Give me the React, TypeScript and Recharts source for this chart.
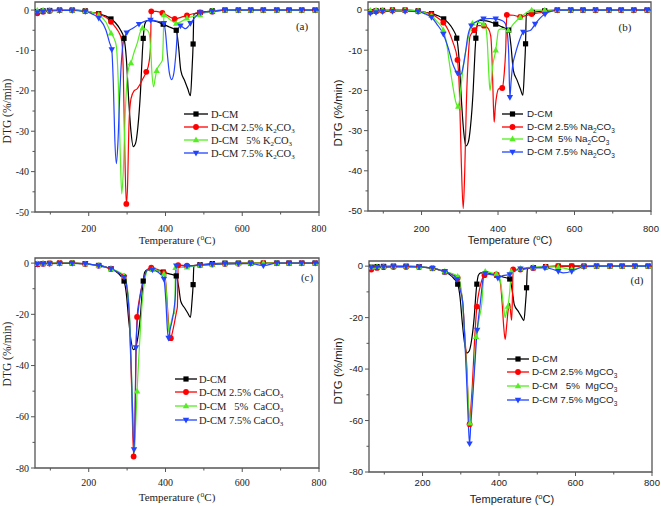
import React from 'react';
import { LineChart, Line, XAxis, YAxis, ReferenceArea } from 'recharts';

type Pt = [number, number];

// ---------- tick values ----------
const X_TICKS = [100, 200, 300, 400, 500, 600, 700, 800];
const Y_TICKS_AB = [-50, -45, -40, -35, -30, -25, -20, -15, -10, -5, 0];
const Y_TICKS_CD = [-80, -70, -60, -50, -40, -30, -20, -10, 0];

// ---------- common marker temperatures ----------
const HEAD_MK = [66, 81, 98, 124, 157, 191, 226];
const TAIL_MK = [555, 590, 622, 655, 690, 722, 755, 790];
const TAIL: Pt[] = [[555, 0], [590, 0], [622, 0], [655, 0], [690, 0], [722, 0], [755, 0], [790, 0], [800, 0]];

// ---------- D-CM (same in all panels) ----------
const DCM_PTS: Pt[] = [[60, -0.6], [66, -0.4], [81, -0.2], [98, -0.1], [124, 0], [157, 0], [191, -0.2], [210, -0.6], [226, -0.9], [245, -1.5], [258, -2.2], [270, -3.2], [282, -4.8], [292, -7.0], [298, -12], [304, -22], [310, -30], [316, -33.8], [322, -33], [328, -29], [335, -20], [340, -10], [342, -7.0], [346, -3.5], [352, -2.6], [370, -2.7], [394, -3.5], [410, -4.2], [428, -5.0], [434, -9], [440, -15], [450, -17.5], [458, -19.5], [465, -21.2], [469, -15], [472, -8.4], [474, -1], [490, -0.6], [522, -0.2], ...TAIL];
const DCM_MK = [258, 292, 342, 394, 428, 472, 490, 522];

// ---------- (a) K2CO3 ----------
const A_K25_PTS: Pt[] = [[60, -1.0], [66, -0.8], [81, -0.4], [98, -0.2], [124, 0], [157, 0], [191, -0.3], [210, -0.6], [226, -1.0], [245, -1.8], [258, -2.9], [270, -4.3], [280, -5.8], [286, -7.5], [290, -15], [294, -35], [298, -48], [301, -44], [305, -28], [310, -22], [318, -20], [326, -19.5], [333, -18.5], [341, -17], [350, -15.3], [357, -13], [361, -9], [363, -0.3], [376, -0.3], [392, -0.7], [408, -1.5], [424, -2.2], [440, -1.8], [456, -1.3], [472, -0.9], [490, -0.6], [522, -0.4], ...TAIL];
const A_K25_MK = [258, 298, 350, 363, 392, 424, 456, 490, 522];
const A_K5_PTS: Pt[] = [[60, -0.2], [66, -0.1], [81, 0], [98, 0], [124, 0], [157, 0], [191, -0.2], [210, -0.6], [226, -1.2], [245, -3], [258, -5.7], [266, -7], [272, -9], [277, -18], [282, -35], [286, -45.5], [290, -40], [295, -26], [300, -17], [305, -14], [310, -13.1], [318, -10.5], [327, -8], [334, -5.5], [340, -4.5], [350, -4.8], [357, -5.6], [361, -9], [365, -16], [369, -19], [373, -17], [377, -15], [385, -13.5], [392, -12.4], [394, -8], [396, -1.2], [410, -2.2], [428, -3.3], [442, -2.8], [456, -2.0], [472, -1.6], [490, -1.2], [508, -0.5], [522, -0.2], ...TAIL];
const A_K5_MK = [258, 310, 340, 377, 396, 428, 456, 490, 522];
const A_K75_PTS: Pt[] = [[60, -0.8], [66, -0.6], [81, -0.4], [98, -0.2], [124, -0.1], [157, -0.1], [191, -0.3], [210, -1.0], [226, -2.0], [245, -5], [254, -8], [260, -9.8], [264, -18], [268, -32], [272, -38], [276, -33], [280, -23], [285, -13], [290, -8], [294, -6.6], [299, -5.6], [315, -4.5], [331, -3.5], [346, -2.8], [361, -2.5], [380, -2.8], [396, -3.3], [400, -5.5], [405, -11], [410, -15.5], [416, -17.2], [422, -15.5], [427, -11], [432, -5], [439, -3.9], [446, -4.3], [452, -4.6], [458, -4.2], [465, -3.3], [478, -1.7], [491, -0.6], [522, -0.3], ...TAIL];
const A_K75_MK = [260, 299, 331, 361, 396, 439, 465, 491, 522];

// ---------- (b) Na2CO3 ----------
const B_N25_PTS: Pt[] = [[60, -0.5], [66, -0.4], [81, -0.3], [98, -0.2], [124, -0.1], [157, -0.1], [191, -0.3], [210, -0.6], [226, -1.0], [240, -1.8], [257, -3.1], [270, -5], [282, -8], [294, -12.4], [299, -20], [304, -38], [309, -49.4], [313, -40], [317, -24], [322, -12], [327, -6.5], [338, -5], [348, -3.9], [363, -3.9], [375, -4.7], [381, -6.5], [385, -14], [388, -24], [390, -27.9], [393, -24], [397, -21], [402, -19.6], [411, -19.4], [416, -16], [420, -10], [423, -1.2], [440, -1.3], [458, -1.7], [472, -1.4], [488, -1.0], [522, -0.5], [540, -0.2], ...TAIL];
const B_N25_MK = [257, 294, 338, 363, 411, 423, 458, 488, 522];
const B_N5_PTS: Pt[] = [[60, -0.2], [66, -0.1], [81, 0], [98, 0], [124, 0], [157, 0], [191, -0.2], [210, -0.7], [226, -1.4], [240, -2.8], [257, -5], [265, -8], [274, -14], [282, -19], [290, -23], [296, -24], [302, -20], [309, -14], [318, -9], [327, -5], [333, -3.3], [345, -3], [362, -3.5], [368, -4.3], [372, -8], [376, -16], [379, -20], [382, -18], [386, -14], [394, -10], [398, -7], [401, -5], [409, -4.7], [418, -4.8], [427, -5], [440, -3.5], [458, -1.8], [472, -0.8], [488, 0], [522, 0], ...TAIL];
const B_N5_MK = [257, 296, 333, 362, 394, 427, 458, 488, 522];
const B_N75_PTS: Pt[] = [[60, -0.9], [66, -0.8], [81, -0.6], [98, -0.4], [124, -0.3], [157, -0.3], [191, -0.4], [210, -1.0], [226, -1.8], [240, -3.5], [257, -6], [270, -9.5], [282, -13.5], [294, -15.7], [303, -16], [309, -14], [315, -10.5], [321, -6.5], [330, -3.9], [345, -2.8], [362, -2.2], [380, -2.1], [394, -2.2], [410, -2.6], [418, -3.2], [424, -5.5], [428, -11], [431, -21.7], [434, -18], [438, -14], [445, -11], [453, -8.4], [460, -6.5], [466, -5.5], [475, -5.3], [484, -5.1], [490, -4.5], [497, -3.5], [510, -2], [523, -1], [540, -0.3], ...TAIL];
const B_N75_MK = [257, 294, 330, 362, 394, 431, 466, 497, 523];

// ---------- (c) CaCO3 ----------
const C_TAIL: Pt[] = [[555, -0.3], [590, -0.2], [622, 0], [655, 0], [690, 0], [722, 0], [755, 0], [790, 0], [800, 0]];
const C_C25_PTS: Pt[] = [[60, -0.5], [66, -0.4], [81, -0.2], [98, -0.1], [124, 0], [157, 0], [191, -0.3], [210, -0.6], [226, -1.0], [245, -1.6], [258, -2.2], [275, -3.5], [292, -5.2], [300, -10], [306, -22], [312, -50], [317, -75.5], [320, -65], [323, -38], [326, -21], [332, -14], [340, -8], [348, -4], [355, -2.2], [363, -1.8], [380, -2.5], [396, -3.8], [401, -8], [405, -17], [409, -25], [414, -29.3], [418, -27], [423, -23.5], [428, -19.5], [431, -17], [433, -0.8], [456, -1.0], [490, -0.8], [522, -0.5], ...C_TAIL];
const C_C25_MK = [258, 292, 317, 326, 363, 396, 414, 433, 456, 490, 522];
const C_C5_PTS: Pt[] = [[60, -0.3], [66, -0.2], [81, -0.1], [98, 0], [124, 0], [157, 0], [191, -0.3], [210, -0.6], [226, -1.0], [245, -1.6], [258, -2.2], [275, -3.2], [292, -5.0], [300, -9], [307, -22], [313, -50], [319, -74], [322, -64], [326, -50], [330, -38], [335, -25], [340, -14], [347, -6], [355, -2.5], [366, -2.6], [380, -3], [396, -4.2], [401, -9], [405, -19], [409, -27], [413, -24.5], [417, -21.5], [421, -20], [424, -19.5], [426, -1.8], [440, -1.7], [456, -1.6], [472, -1.2], [490, -0.8], [522, -0.5], ...C_TAIL];
const C_C5_MK = [258, 292, 326, 366, 396, 426, 456, 490, 522];
const C_C75_PTS: Pt[] = [[60, -0.6], [66, -0.5], [81, -0.3], [98, -0.2], [124, -0.1], [157, -0.1], [191, -0.3], [210, -0.6], [226, -1.0], [245, -1.6], [258, -2.2], [275, -3.5], [292, -5.5], [300, -10], [307, -24], [313, -52], [318, -72.8], [321, -58], [323, -33], [327, -22], [333, -14], [340, -8], [348, -4], [355, -2.4], [366, -2.6], [380, -3.5], [396, -6.2], [401, -15], [405, -26], [408, -29.3], [412, -26], [418, -22], [423, -17], [426, -12], [428, -1.0], [440, -1.0], [456, -1.2], [472, -1.0], [490, -0.8], [522, -0.5], [555, -0.3], [590, -0.2], [622, -0.2], [655, -1.0], [690, 0], [722, 0], [755, 0], [790, 0], [800, 0]];
const C_C75_MK = [258, 292, 318, 323, 366, 396, 408, 428, 456, 490, 522];

// ---------- (d) MgCO3 ----------
const D_M25_PTS: Pt[] = [[60, -1.5], [66, -1.3], [81, -0.7], [98, -0.4], [124, -0.3], [157, -0.3], [191, -0.3], [210, -0.5], [226, -0.8], [245, -1.6], [258, -2.2], [275, -3], [292, -4.6], [300, -9], [305, -14], [311, -28], [316, -40], [320, -55], [323, -61.4], [326, -56], [330, -47], [336, -29], [342, -15.7], [349, -9], [356, -5], [362, -3.5], [375, -3], [393, -3.2], [403, -6], [408, -14], [412, -23], [416, -28.5], [420, -23], [424, -17], [428, -14.5], [431, -19], [433, -21], [435, -12], [437, -1.3], [456, -1.3], [472, -1.0], [489, -0.7], [522, -0.3], ...TAIL];
const D_M25_MK = [258, 292, 323, 342, 362, 393, 437, 456, 489, 522];
const D_M5_PTS: Pt[] = [[60, -0.5], [66, -0.4], [81, -0.2], [98, -0.1], [124, 0], [157, 0], [191, -0.2], [210, -0.5], [226, -0.8], [245, -1.5], [258, -2.0], [275, -2.8], [292, -4.0], [300, -8], [306, -17], [312, -32], [318, -48], [321, -56], [324, -61], [327, -57], [331, -50], [336, -38], [340, -27.4], [345, -23], [349, -19.6], [355, -14.4], [359, -6], [364, -2], [380, -2.6], [393, -3], [401, -4], [405, -7], [409, -12], [413, -17], [416, -20], [420, -17.5], [423, -15.7], [428, -10], [432, -2], [444, -1.3], [456, -0.9], [472, -0.6], [489, -0.4], [522, -0.3], [555, -0.3], [570, -0.8], [590, -1.3], [605, -0.8], [622, 0], [655, 0], [690, 0], [722, 0], [755, 0], [790, 0], [800, 0]];
const D_M5_MK = [258, 292, 324, 340, 364, 393, 423, 432, 456, 489, 522];
const D_M75_PTS: Pt[] = [[60, -0.6], [66, -0.5], [81, -0.4], [98, -0.3], [124, -0.2], [157, -0.2], [191, -0.3], [210, -0.5], [226, -0.8], [245, -1.5], [258, -2.0], [275, -3.2], [290, -5.2], [298, -9], [305, -14], [311, -30], [316, -47], [320, -62], [323, -69], [326, -62], [330, -53.5], [336, -40], [343, -24.8], [351, -14.4], [358, -5.2], [364, -2.9], [380, -3.3], [393, -3.9], [397, -4.6], [410, -3.7], [428, -3.3], [440, -2], [456, -1.0], [472, -0.8], [489, -0.7], [520, -0.7], [540, -1.2], [555, -2.0], [568, -2.6], [590, -2.0], [605, -1], [622, -0.3], [655, 0], [690, 0], [722, 0], [755, 0], [790, 0], [800, 0]];
const D_M75_MK = [258, 290, 323, 343, 364, 397, 428, 456, 489, 520];

// ---------- legend labels ----------
const LEG_A = ['D-CM', 'D-CM 2.5% K_2CO_3', 'D-CM   5% K_2CO_3', 'D-CM 7.5% K_2CO_3'];
const LEG_B = ['D-CM', 'D-CM 2.5% Na_2CO_3', 'D-CM  5% Na_2CO_3', 'D-CM 7.5% Na_2CO_3'];
const LEG_C = ['D-CM', 'D-CM 2.5% CaCO_3', 'D-CM   5%  CaCO_3', 'D-CM 7.5% CaCO_3'];
const LEG_D = ['D-CM', 'D-CM 2.5% MgCO_3', 'D-CM   5%  MgCO_3', 'D-CM 7.5% MgCO_3'];

// ---------- styles ----------
const AX = '#555';
const TXT = '#222';
const SERIF = "'Liberation Serif','Times New Roman',serif";
const SANS = "'Liberation Sans',Arial,sans-serif";
type Shape = 'square' | 'circle' | 'up' | 'down';
const COLORS = ['#000000', '#ff0000', '#55ee22', '#2244ff'];
const SHAPES: Shape[] = ['square', 'circle', 'up', 'down'];

function marker(key: string, cx: number, cy: number, shape: Shape, color: string) {
  if (shape === 'square') return <rect key={key} x={cx - 2.6} y={cy - 2.6} width={5.2} height={5.2} fill={color} />;
  if (shape === 'circle') return <circle key={key} cx={cx} cy={cy} r={2.9} fill={color} />;
  if (shape === 'up') return <polygon key={key} points={`${cx},${cy - 3.4} ${cx - 3.2},${cy + 2.3} ${cx + 3.2},${cy + 2.3}`} fill={color} />;
  return <polygon key={key} points={`${cx},${cy + 3.4} ${cx - 3.2},${cy - 2.3} ${cx + 3.2},${cy - 2.3}`} fill={color} />;
}

interface SeriesDef { pts: Pt[]; mk: number[] }
interface PanelDef {
  left: number; top: number; width: number; height: number;
  margin: { top: number; right: number; bottom: number; left: number };
  yAxisWidth: number; xAxisHeight: number;
  yDomain: [number, number]; yTicks: number[]; yMajor: number;
  font: string; tickSize: number; xLabelDy: number;
  series: SeriesDef[];
}

const PANELS: PanelDef[] = [
  {
    left: 0, top: 0, width: 330, height: 253, margin: { top: 2, right: 11, bottom: 0, left: 0 },
    yAxisWidth: 35, xAxisHeight: 41, yDomain: [-50, 2], yTicks: Y_TICKS_AB, yMajor: 10,
    font: SERIF, tickSize: 10, xLabelDy: 20,
    series: [{ pts: DCM_PTS, mk: DCM_MK }, { pts: A_K25_PTS, mk: A_K25_MK }, { pts: A_K5_PTS, mk: A_K5_MK }, { pts: A_K75_PTS, mk: A_K75_MK }],
  },
  {
    left: 330, top: 0, width: 331, height: 253, margin: { top: 2, right: 10, bottom: 0, left: 0 },
    yAxisWidth: 38, xAxisHeight: 42, yDomain: [-50, 2], yTicks: Y_TICKS_AB, yMajor: 10,
    font: SANS, tickSize: 9.5, xLabelDy: 21,
    series: [{ pts: DCM_PTS, mk: DCM_MK }, { pts: B_N25_PTS, mk: B_N25_MK }, { pts: B_N5_PTS, mk: B_N5_MK }, { pts: B_N75_PTS, mk: B_N75_MK }],
  },
  {
    left: 0, top: 253, width: 330, height: 253, margin: { top: 5, right: 11, bottom: 0, left: 0 },
    yAxisWidth: 35, xAxisHeight: 38, yDomain: [-80, 2], yTicks: Y_TICKS_CD, yMajor: 20,
    font: SERIF, tickSize: 10, xLabelDy: 18,
    series: [{ pts: DCM_PTS, mk: DCM_MK }, { pts: C_C25_PTS, mk: C_C25_MK }, { pts: C_C5_PTS, mk: C_C5_MK }, { pts: C_C75_PTS, mk: C_C75_MK }],
  },
  {
    left: 330, top: 253, width: 331, height: 253, margin: { top: 8, right: 9, bottom: 0, left: 0 },
    yAxisWidth: 39, xAxisHeight: 34, yDomain: [-80, 2], yTicks: Y_TICKS_CD, yMajor: 20,
    font: SANS, tickSize: 9.5, xLabelDy: 14,
    series: [{ pts: DCM_PTS, mk: DCM_MK }, { pts: D_M25_PTS, mk: D_M25_MK }, { pts: D_M5_PTS, mk: D_M5_MK }, { pts: D_M75_PTS, mk: D_M75_MK }],
  },
];

function Panel({ cfg }: { cfg: PanelDef }) {
  const xTick = (p: any) => {
    const v = p.payload.value;
    const major = v % 200 === 0;
    return (
      <g key={`xt-${v}`}>
        <line x1={p.x} x2={p.x} y1={p.y} y2={p.y + (major ? 4 : 2.5)} stroke={AX} strokeWidth={1} />
        {major && (
          <text x={p.x} y={p.y + cfg.xLabelDy} textAnchor="middle" fontFamily={cfg.font} fontSize={cfg.tickSize} fill={TXT}>{v}</text>
        )}
      </g>
    );
  };
  const yTick = (p: any) => {
    const v = p.payload.value;
    const major = v % cfg.yMajor === 0;
    return (
      <g key={`yt-${v}`}>
        <line x1={p.x} x2={p.x - (major ? 4 : 2.5)} y1={p.y} y2={p.y} stroke={AX} strokeWidth={1} />
        {major && (
          <text x={p.x - 6} y={p.y + cfg.tickSize * 0.35} textAnchor="end" fontFamily={cfg.font} fontSize={cfg.tickSize} fill={TXT}>{v === 0 ? '0' : String(v)}</text>
        )}
      </g>
    );
  };
  return (
    <div style={{ position: 'absolute', left: cfg.left, top: cfg.top }}>
      <LineChart width={cfg.width} height={cfg.height} margin={cfg.margin}>
        <XAxis type="number" dataKey="t" domain={[60, 800]} allowDataOverflow ticks={X_TICKS} interval={0}
          height={cfg.xAxisHeight} axisLine={false} tickLine={false} tickSize={0} tickMargin={0} tick={xTick} />
        <YAxis type="number" domain={cfg.yDomain} allowDataOverflow ticks={cfg.yTicks} interval={0}
          width={cfg.yAxisWidth} axisLine={false} tickLine={false} tickSize={0} tickMargin={0} tick={yTick} />
        <ReferenceArea x1={60} x2={800} y1={cfg.yDomain[0]} y2={cfg.yDomain[1]} fill="none" fillOpacity={0} stroke={AX} strokeWidth={1.3} />
        {cfg.series.map((s, i) => {
          const set = new Set(s.mk.concat(HEAD_MK, TAIL_MK));
          const color = COLORS[i];
          const shape = SHAPES[i];
          return (
            <Line key={`s${i}`} data={s.pts.map(([t, v]) => ({ t, v }))} dataKey="v" type="monotone"
              stroke={color} strokeWidth={1.2} isAnimationActive={false} activeDot={false}
              dot={(p: any) => {
                const k = `d${i}-${p.index}`;
                if (!p.payload || !set.has(p.payload.t) || p.cx == null) return <g key={k} />;
                return marker(k, p.cx, p.cy, shape, color);
              }} />
          );
        })}
      </LineChart>
    </div>
  );
}

function RichText({ x, y, label, font, size, anchor }: { x: number; y: number; label: string; font: string; size: number; anchor?: string }) {
  const parts: React.ReactNode[] = [];
  let buf = '';
  let shifted = false;
  let k = 0;
  const sh = size * 0.25;
  for (let i = 0; i < label.length; i++) {
    const c = label[i];
    if (c === '_' && i + 1 < label.length) {
      if (buf) { parts.push(<tspan key={k++} dy={shifted ? -sh : 0}>{buf}</tspan>); shifted = false; buf = ''; }
      parts.push(<tspan key={k++} dy={shifted ? 0 : sh} fontSize={size * 0.66}>{label[i + 1]}</tspan>);
      shifted = true;
      i++;
    } else {
      buf += c;
    }
  }
  if (buf) parts.push(<tspan key={k++} dy={shifted ? -sh : 0}>{buf}</tspan>);
  return (
    <text x={x} y={y} fontFamily={font} fontSize={size} fill={TXT} textAnchor={anchor || 'start'} style={{ whiteSpace: 'pre' }}>{parts}</text>
  );
}

interface LegendDef { x1: number; x2: number; tx: number; ys: number[]; labels: string[]; font: string; size: number }
const LEGENDS: LegendDef[] = [
  { x1: 184, x2: 208, tx: 211, ys: [114, 127, 140, 153], labels: LEG_A, font: SERIF, size: 10.5 },
  { x1: 502, x2: 523, tx: 527, ys: [114, 127, 139, 152], labels: LEG_B, font: SANS, size: 9.8 },
  { x1: 175, x2: 197, tx: 199, ys: [379, 392, 406, 420], labels: LEG_C, font: SERIF, size: 10.5 },
  { x1: 507, x2: 529, tx: 532, ys: [359, 372, 386, 400], labels: LEG_D, font: SANS, size: 9.8 },
];

const TITLES = [
  { tx: 177, ty: 244, dx: 11, dy: 111, font: SERIF, lab: '(a)', lx: 302, ly: 30 },
  { tx: 510, ty: 244, dx: 342, dy: 113, font: SANS, lab: '(b)', lx: 625, ly: 31 },
  { tx: 177, ty: 501, dx: 11, dy: 354, font: SERIF, lab: '(c)', lx: 307, ly: 281 },
  { tx: 512, ty: 503, dx: 342, dy: 371, font: SANS, lab: '(d)', lx: 637, ly: 284 },
];

export default function App() {
  return (
    <div style={{ position: 'absolute', left: 0, top: 0, width: 661, height: 506, background: '#fff', overflow: 'hidden' }}>
      {PANELS.map((p, i) => <Panel key={i} cfg={p} />)}
      <svg width={661} height={506} style={{ position: 'absolute', left: 0, top: 0, pointerEvents: 'none' }}>
        {LEGENDS.map((L, li) => (
          <g key={`lg${li}`}>
            {L.labels.map((lab, i) => (
              <g key={i}>
                <line x1={L.x1} x2={L.x2} y1={L.ys[i]} y2={L.ys[i]} stroke={COLORS[i]} strokeWidth={1.3} />
                {marker(`lm${li}-${i}`, (L.x1 + L.x2) / 2, L.ys[i], SHAPES[i], COLORS[i])}
                <RichText x={L.tx} y={L.ys[i] + L.size * 0.35} label={lab} font={L.font} size={L.size} />
              </g>
            ))}
          </g>
        ))}
        {TITLES.map((t, i) => (
          <g key={`t${i}`}>
            <text x={t.tx} y={t.ty} textAnchor="middle" fontFamily={t.font} fontSize={11} fill={TXT}>
              Temperature (<tspan dy={-4} fontSize={7.5}>o</tspan><tspan dy={4}>C)</tspan>
            </text>
            <text x={t.dx} y={t.dy} textAnchor="middle" fontFamily={t.font} fontSize={11.5} fill={TXT}
              transform={`rotate(-90 ${t.dx} ${t.dy})`}>DTG (%/min)</text>
            <text x={t.lx} y={t.ly} textAnchor="middle" fontFamily={SERIF} fontSize={11} fill={TXT}>{t.lab}</text>
          </g>
        ))}
      </svg>
    </div>
  );
}
